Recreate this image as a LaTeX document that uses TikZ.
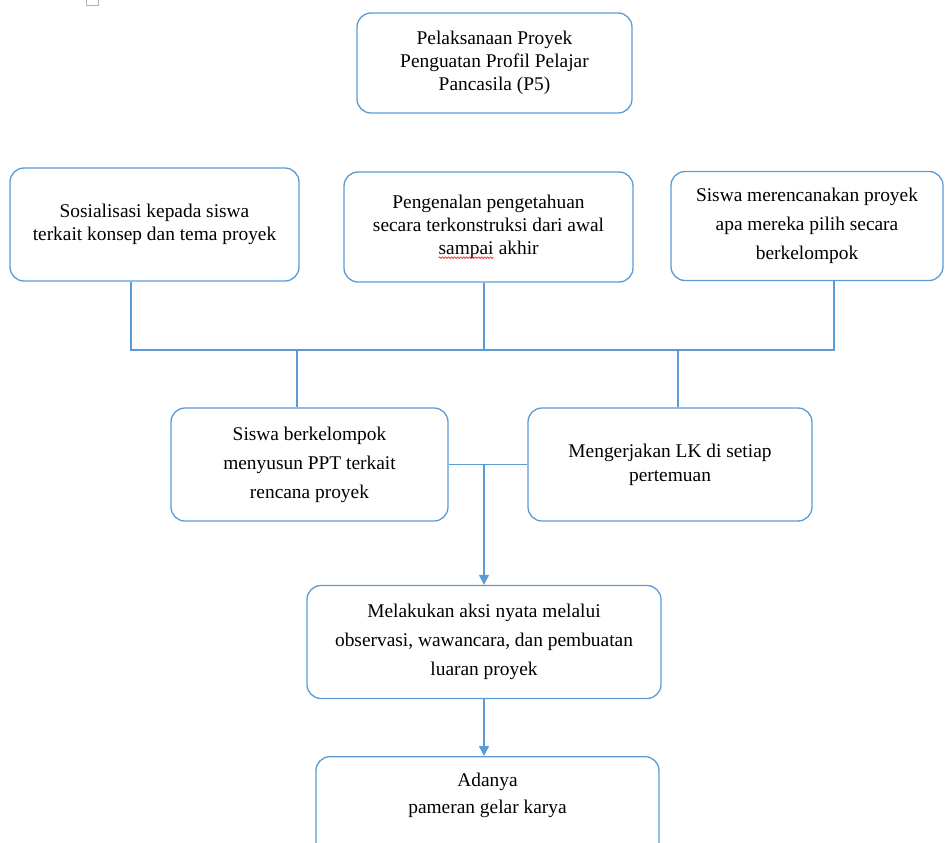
\documentclass[tikz,border=0pt]{standalone}
\usepackage{fontspec}
\setmainfont{Liberation Serif}
\usetikzlibrary{shapes,arrows.meta,calc,decorations.pathmorphing}
\definecolor{flowblue}{RGB}{91,155,213}
\newcommand\spellwave[1]{\tikz[baseline=(sw.base)]{\node[inner sep=0pt, outer sep=0pt, minimum width=0pt,
      minimum height=0pt, draw=none] (sw) {#1};
    \draw[red, line width=0.6pt, rounded corners=0pt, decorate, decoration={snake, amplitude=0.8pt, segment length=3pt}]
    ([yshift=-3pt]sw.base west) -- ([yshift=-3pt]sw.base east);}}
\tikzset{
  box/.style={draw=flowblue, line width=1.3pt, rounded corners=14pt, align=center,
    text=black, font=\fontsize{19.4}{23}\selectfont},
  wide/.style={font=\fontsize{19.4}{29}\selectfont},
  link/.style={draw=flowblue, line width=1.3pt},
  flow/.style={link, -{Triangle[width=10pt,length=10pt]}}
}

\begin{document}
\begin{tikzpicture}[x=1pt,y=-1pt]
    \useasboundingbox (0,0) rectangle (945,843);

    % Small mark at the top
    \draw[gray!60, line width=0.8pt] (86.5,-4) rectangle (98,5);

    % Title
    \node[box, minimum width=275, minimum height=100] (p5) at (494.5,63)
        {Pelaksanaan Proyek\\Penguatan Profil Pelajar\\Pancasila (P5)};

    % First steps
    \node[box, minimum width=289, minimum height=113] (sos) at (154.5,224.5)
        {Sosialisasi kepada siswa\\terkait konsep dan tema proyek};
    \node[box, minimum width=289, minimum height=110] (kenal) at (488.5,227)
        {Pengenalan pengetahuan\\secara terkonstruksi dari awal\\\spellwave{sampai} akhir};
    \node[box, wide, minimum width=272, minimum height=109] (rencana) at (807,226)
        {Siswa merencanakan proyek\\apa mereka pilih secara\\berkelompok};

    % Group work
    \node[box, wide, minimum width=277, minimum height=113] (ppt) at (309.5,464.5)
        {Siswa berkelompok\\menyusun PPT terkait\\rencana proyek};
    \node[box, font=\fontsize{19.4}{24}\selectfont, minimum width=284, minimum height=113] (lk) at (670,464.5)
        {Mengerjakan LK di setiap\\pertemuan};

    % Action and result
    \node[box, wide, minimum width=354, minimum height=113] (aksi) at (484,642)
        {Melakukan aksi nyata melalui\\observasi, wawancara, dan pembuatan\\luaran proyek};
    \node[box, anchor=north, minimum width=343, minimum height=113] (karya) at (487.5,756) {};
    \node[align=center, text=black, font=\fontsize{19.4}{27}\selectfont] (karyatext) at (487.5,795)
        {Adanya\\pameran gelar karya};

    % Bus lines
    \coordinate (busL) at (131,350);
    \coordinate (busM) at (484,350);
    \coordinate (busR) at (834,350);
    \coordinate (dropL) at (297,350);
    \coordinate (dropR) at (678,350);
    \coordinate (join) at (484,464.5);

    \draw[link] (sos.south -| busL) -- (busL) -- (busR) -- (rencana.south -| busR);
    \draw[link] (kenal.south -| busM) -- (busM);
    \draw[link] (dropL) -- (ppt.north -| dropL);
    \draw[link] (dropR) -- (lk.north -| dropR);
    \draw[link] (ppt.east) -- (lk.west);

    % Arrows down
    \draw[flow] (join) -- (aksi.north);
    \draw[flow] (aksi.south) -- (karya.north -| aksi.south);
\end{tikzpicture}
\end{document}
